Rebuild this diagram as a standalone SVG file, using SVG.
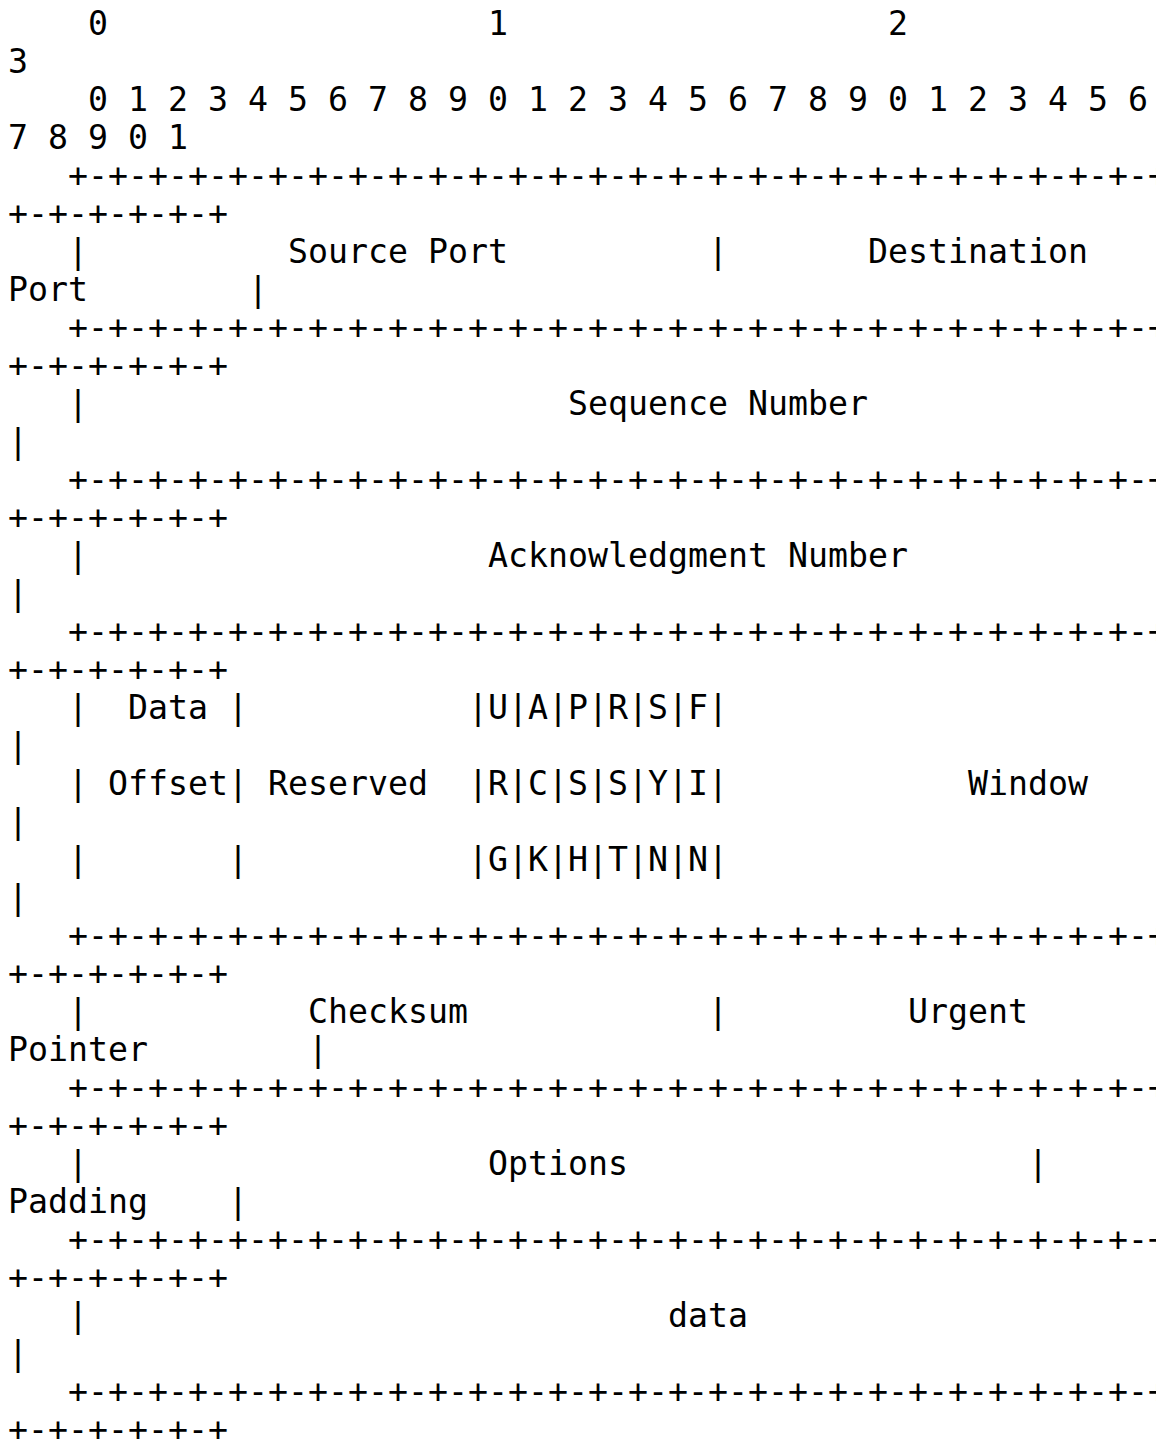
<svg xmlns="http://www.w3.org/2000/svg" width="1156" height="1439" viewBox="0 0 1156 1439">
<style>
text{font-family:"DejaVu Sans Mono","Liberation Mono",monospace;font-size:33.22px;fill:#000;white-space:pre}
</style>
<rect width="1156" height="1439" fill="#fff"/>
<g id="tcp-header" xml:space="preserve">
<text x="8" y="35">    0                   1                   2</text>
<text x="8" y="73">3</text>
<text x="8" y="111">    0 1 2 3 4 5 6 7 8 9 0 1 2 3 4 5 6 7 8 9 0 1 2 3 4 5 6</text>
<text x="8" y="149">7 8 9 0 1</text>
<text x="8" y="187">   +-+-+-+-+-+-+-+-+-+-+-+-+-+-+-+-+-+-+-+-+-+-+-+-+-+-+-+-</text>
<text x="8" y="225">+-+-+-+-+-+</text>
<text x="8" y="263">   |          Source Port          |       Destination</text>
<text x="8" y="301">Port        |</text>
<text x="8" y="339">   +-+-+-+-+-+-+-+-+-+-+-+-+-+-+-+-+-+-+-+-+-+-+-+-+-+-+-+-</text>
<text x="8" y="377">+-+-+-+-+-+</text>
<text x="8" y="415">   |                        Sequence Number</text>
<text x="8" y="453">|</text>
<text x="8" y="491">   +-+-+-+-+-+-+-+-+-+-+-+-+-+-+-+-+-+-+-+-+-+-+-+-+-+-+-+-</text>
<text x="8" y="529">+-+-+-+-+-+</text>
<text x="8" y="567">   |                    Acknowledgment Number</text>
<text x="8" y="605">|</text>
<text x="8" y="643">   +-+-+-+-+-+-+-+-+-+-+-+-+-+-+-+-+-+-+-+-+-+-+-+-+-+-+-+-</text>
<text x="8" y="681">+-+-+-+-+-+</text>
<text x="8" y="719">   |  Data |           |U|A|P|R|S|F|</text>
<text x="8" y="757">|</text>
<text x="8" y="795">   | Offset| Reserved  |R|C|S|S|Y|I|            Window</text>
<text x="8" y="833">|</text>
<text x="8" y="871">   |       |           |G|K|H|T|N|N|</text>
<text x="8" y="909">|</text>
<text x="8" y="947">   +-+-+-+-+-+-+-+-+-+-+-+-+-+-+-+-+-+-+-+-+-+-+-+-+-+-+-+-</text>
<text x="8" y="985">+-+-+-+-+-+</text>
<text x="8" y="1023">   |           Checksum            |         Urgent</text>
<text x="8" y="1061">Pointer        |</text>
<text x="8" y="1099">   +-+-+-+-+-+-+-+-+-+-+-+-+-+-+-+-+-+-+-+-+-+-+-+-+-+-+-+-</text>
<text x="8" y="1137">+-+-+-+-+-+</text>
<text x="8" y="1175">   |                    Options                    |</text>
<text x="8" y="1213">Padding    |</text>
<text x="8" y="1251">   +-+-+-+-+-+-+-+-+-+-+-+-+-+-+-+-+-+-+-+-+-+-+-+-+-+-+-+-</text>
<text x="8" y="1289">+-+-+-+-+-+</text>
<text x="8" y="1327">   |                             data</text>
<text x="8" y="1365">|</text>
<text x="8" y="1403">   +-+-+-+-+-+-+-+-+-+-+-+-+-+-+-+-+-+-+-+-+-+-+-+-+-+-+-+-</text>
<text x="8" y="1441">+-+-+-+-+-+</text>
</g>
</svg>
